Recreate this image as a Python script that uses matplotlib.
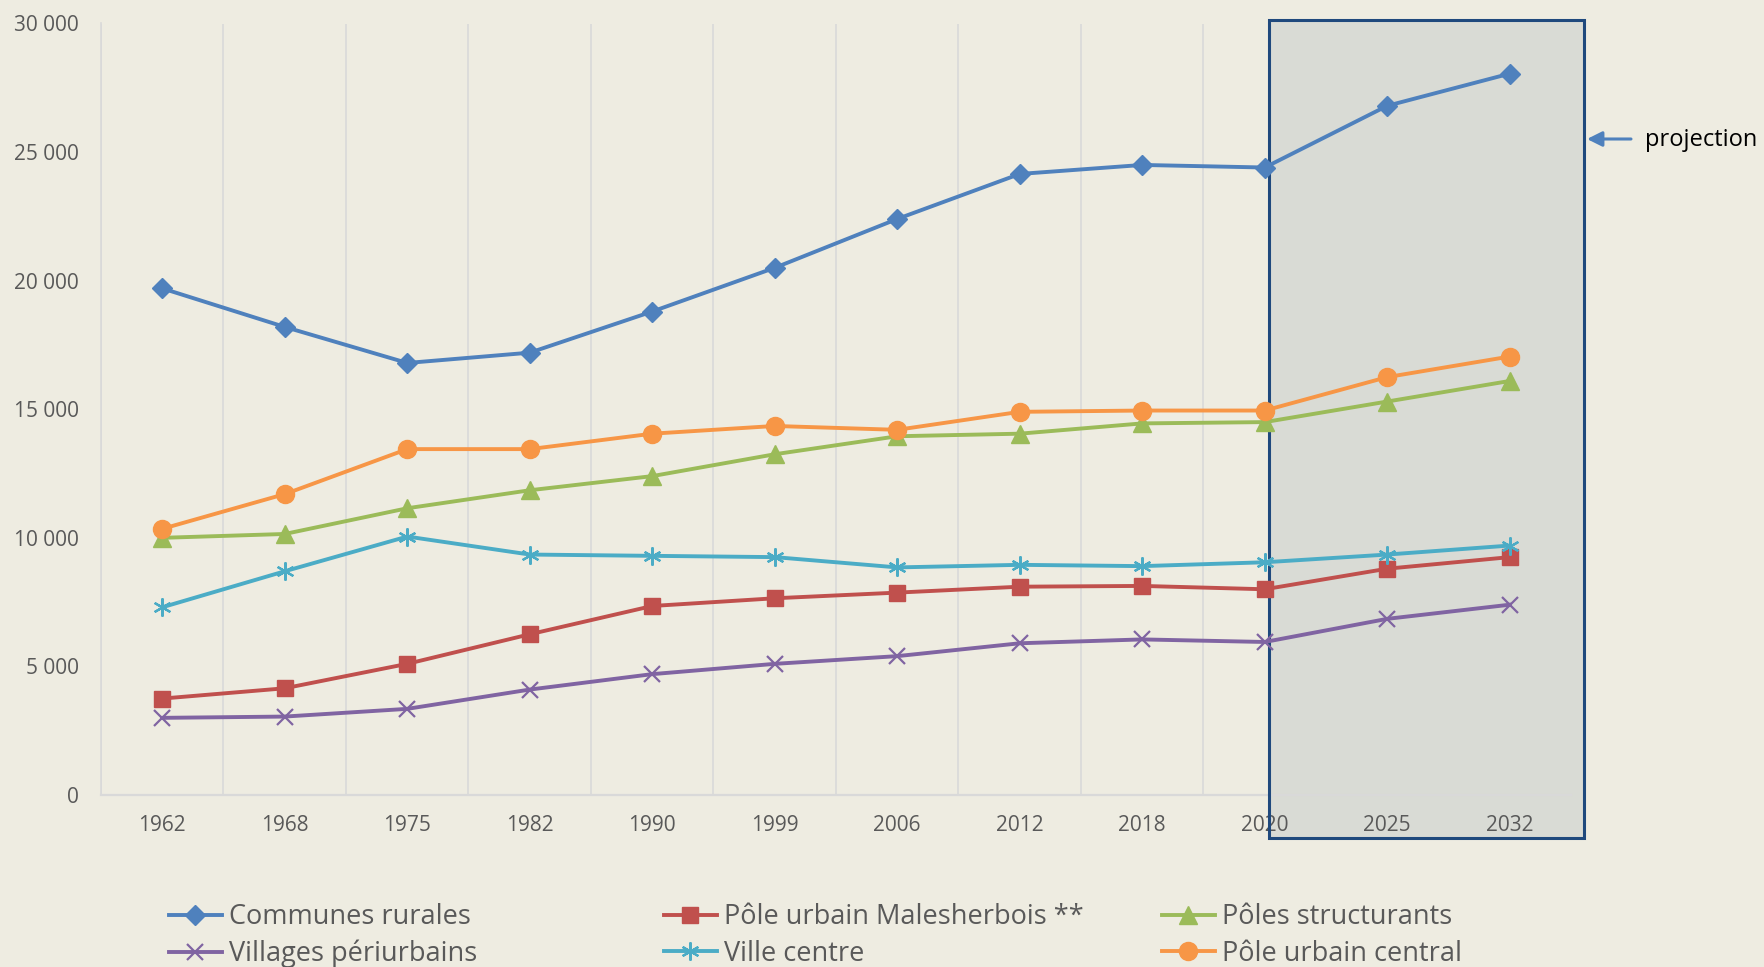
import matplotlib
matplotlib.use("Agg")
import matplotlib.pyplot as plt
from matplotlib.patches import Rectangle

# ---- data ----
years = ["1962", "1968", "1975", "1982", "1990", "1999", "2006", "2012", "2018", "2020", "2025", "2032"]
communes_rurales = [19700, 18200, 16800, 17200, 18800, 20500, 22400, 24150, 24500, 24400, 26800, 28050]
pole_malesherbois = [3750, 4150, 5100, 6250, 7350, 7650, 7870, 8100, 8130, 8000, 8800, 9250]
poles_structurants = [10000, 10150, 11150, 11850, 12400, 13250, 13950, 14050, 14450, 14500, 15300, 16100]
villages_periurbains = [3000, 3050, 3350, 4100, 4700, 5100, 5400, 5900, 6050, 5950, 6850, 7400]
ville_centre = [7300, 8700, 10050, 9350, 9300, 9250, 8850, 8950, 8900, 9050, 9350, 9700]
pole_central = [10350, 11700, 13450, 13450, 14050, 14350, 14200, 14900, 14950, 14950, 16250, 17050]
y_ticks = [0, 5000, 10000, 15000, 20000, 25000, 30000]
y_tick_labels = ["0", "5 000", "10 000", "15 000", "20 000", "25 000", "30 000"]

W, H = 1765, 967
BG = "#EEECE1"
FONT = "Open Sans"
plt.rcParams["font.family"] = [FONT, "DejaVu Sans"]

fig = plt.figure(figsize=(W / 100, H / 100), dpi=100, facecolor=BG)
ax = fig.add_axes([101 / W, 1 - 795 / H, 1470 / W, 771.5 / H], facecolor=BG)

x = list(range(len(years)))
ax.set_xlim(-0.5, len(years) - 0.5)
ax.set_ylim(0, 30000)

# vertical gridlines at category boundaries
for b in range(len(years)):
    ax.axvline(b - 0.5, color="#D9D9D9", lw=1.2, zorder=0.8)

# projection box (fill below axis, edge above)
box_kw = dict(xy=(9.035, -1672), width=11.605 - 9.035, height=30136 + 1672, clip_on=False)
ax.add_patch(Rectangle(facecolor="#D9DBD5", edgecolor="none", zorder=1, **box_kw))
ax.add_patch(Rectangle(facecolor="none", edgecolor="#1F497D", lw=2.2, zorder=2.6, **box_kw))

series = [
    ("Communes rurales", communes_rurales, "#4F81BD", dict(marker="D", markersize=10.5)),
    ("Pôle urbain Malesherbois **", pole_malesherbois, "#C0504D", dict(marker="s", markersize=11.5)),
    ("Pôles structurants", poles_structurants, "#9BBB59", dict(marker="^", markersize=13)),
    ("Villages périurbains", villages_periurbains, "#8064A2", dict(marker="x", markersize=11, markeredgewidth=1.6)),
    ("Ville centre", ville_centre, "#4BACC6", dict(marker=(6, 2, 0), markersize=13, markeredgewidth=1.6)),
    ("Pôle urbain central", pole_central, "#F79646", dict(marker="o", markersize=13)),
]
handles = {}
for name, vals, col, mk in series:
    h, = ax.plot(x, vals, color=col, lw=2.8, zorder=3, markerfacecolor=col,
                 markeredgecolor=col, label=name, **mk)
    handles[name] = h

ax.set_xticks(x)
ax.set_xticklabels(years)
ax.set_yticks(y_ticks)
ax.set_yticklabels(y_tick_labels)
ax.tick_params(axis="both", length=0, labelsize=15, labelcolor="#595959")
ax.tick_params(axis="x", pad=14.5)
ax.tick_params(axis="y", pad=16)

for s in ["top", "right"]:
    ax.spines[s].set_visible(False)
ax.spines["left"].set_color("#D9D9D9")
ax.spines["left"].set_linewidth(1.2)
ax.spines["bottom"].set_color("#D9D9D9")
ax.spines["bottom"].set_linewidth(1.6)

# projection arrow + label
fig_y = 1 - 139 / H
ax.annotate("", xy=(1587 / W, fig_y), xytext=(1631 / W, fig_y), xycoords="figure fraction",
            textcoords="figure fraction",
            arrowprops=dict(arrowstyle="-|>,head_length=0.9,head_width=0.45", color="#4F81BD", lw=2.2,
                            shrinkA=0, shrinkB=0))
fig.text(1645 / W, 1 - 140 / H, "projection", fontsize=17, color="black", va="center", ha="left")

# legend: three columns, two rows each
columns = [
    (169, ["Communes rurales", "Villages périurbains"]),
    (664, ["Pôle urbain Malesherbois **", "Ville centre"]),
    (1162, ["Pôles structurants", "Pôle urbain central"]),
]
for xpix, names in columns:
    fig.legend([handles[n] for n in names], names, loc="upper left",
               bbox_to_anchor=(xpix / W, 1 - 903 / H), frameon=False, fontsize=19.5,
               labelcolor="#595959", handlelength=1.95, handletextpad=0.25,
               borderpad=0, borderaxespad=0, labelspacing=0.33)

fig.savefig("out.png", dpi=100, facecolor=BG)
